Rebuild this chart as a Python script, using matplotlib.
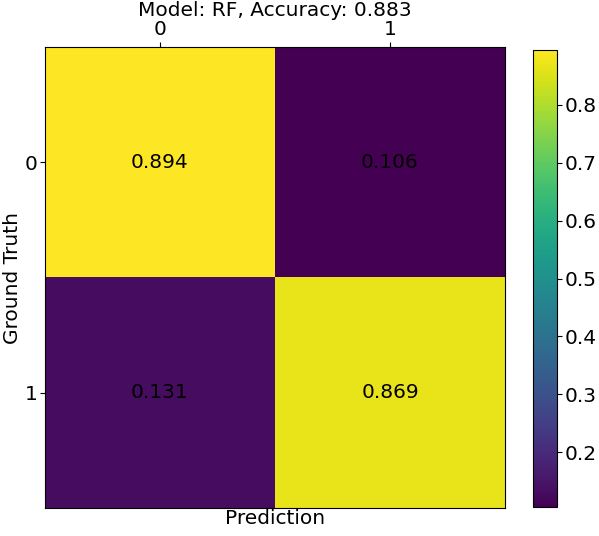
import matplotlib
matplotlib.use("Agg")
import matplotlib.pyplot as plt
import numpy as np

labels = ["0", "1"]
row0 = [0.894, 0.106]
row1 = [0.131, 0.869]
title = "Model: RF, Accuracy: 0.883"

fs = 14.5
cm = np.array([row0, row1])
fig = plt.figure(figsize=(5.99, 5.36), dpi=100)
ax = fig.add_axes([45/599, 1-508/536, 460/599, 461/536])
cax = fig.add_axes([533/599, 1-507/536, 24/599, 457/536])
im = ax.imshow(cm, cmap="viridis", aspect="auto")
for i in range(2):
    for j in range(2):
        ax.text(j, i, f"{cm[i, j]:.3f}", ha="center", va="center", fontsize=fs, color="black")
ax.set_xticks(range(2))
ax.set_yticks(range(2))
ax.set_xticklabels(labels, fontsize=fs)
ax.set_yticklabels(labels, fontsize=fs)
ax.tick_params(pad=2)
ax.xaxis.tick_top()
ax.set_xlabel("Prediction", fontsize=fs, labelpad=1)
ax.set_ylabel("Ground Truth", fontsize=fs, labelpad=2)
ax.set_title(title, fontsize=fs, pad=2)
cb = fig.colorbar(im, cax=cax)
cb.ax.tick_params(labelsize=fs, pad=2)
fig.savefig("out.png", dpi=100)
